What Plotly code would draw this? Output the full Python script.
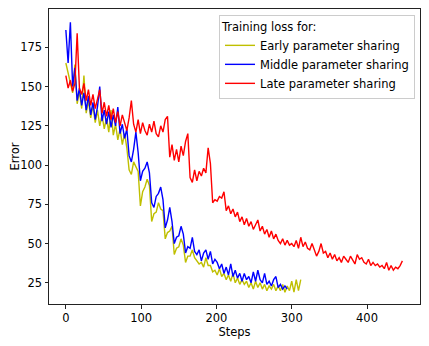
"""Training loss for three parameter sharing schedules."""

import plotly.graph_objects as go

STEP = 3

early_loss = [
    165, 158, 152, 146, 164, 139, 147, 136, 157, 133, 141, 130, 138, 127, 135, 125,
    132, 123, 130, 121, 135, 119, 126, 116, 123, 113, 120, 111, 97, 94, 102, 99,
    96, 74, 83, 86, 91, 87, 64, 69, 70, 76, 72, 71, 53, 57, 58, 61,
    43, 47, 48, 53, 49, 38, 42, 42, 46, 41, 39, 37, 38, 35, 41, 36,
    36, 32, 33, 30, 34, 29, 31, 27, 30, 26, 31, 25, 28, 24, 27, 24,
    26, 22, 25, 21, 26, 22, 25, 21, 24, 20, 23, 21, 24, 20, 23, 20,
    24, 19, 23, 20, 26, 19, 27, 20, 27,
]

middle_loss = [
    186, 165, 191, 150, 162, 141, 149, 138, 146, 135, 144, 132, 140, 129, 137, 150,
    128, 135, 126, 134, 124, 132, 125, 137, 120, 126, 117, 123, 106, 102, 110, 121,
    108, 90, 96, 98, 102, 95, 76, 73, 80, 82, 86, 78, 60, 65, 73, 64,
    50, 54, 55, 61, 56, 44, 48, 47, 54, 45, 43, 46, 39, 44, 46, 40,
    45, 37, 40, 38, 34, 37, 31, 35, 30, 37, 29, 33, 28, 31, 26, 31,
    27, 29, 25, 32, 26, 33, 27, 25, 31, 24, 26, 23, 27, 29, 22, 24,
    21, 23, 21,
]

late_loss = [
    157, 149, 154, 147, 152, 184, 149, 145, 152, 141, 148, 138, 145, 136, 142, 148,
    133, 140, 131, 138, 129, 136, 127, 134, 125, 132, 127, 122, 130, 141, 126, 121,
    129, 120, 127, 122, 119, 126, 121, 128, 120, 118, 125, 121, 129, 131, 105, 113,
    103, 110, 102, 112, 106, 115, 120, 92, 89, 97, 90, 96, 93, 98, 95, 111,
    101, 76, 78, 77, 80, 79, 83, 71, 74, 69, 72, 67, 70, 64, 67, 62,
    66, 61, 64, 59, 62, 65, 58, 61, 56, 59, 54, 58, 53, 56, 52, 50,
    53, 49, 52, 49, 50, 48, 52, 47, 54, 48, 51, 47, 46, 50, 46, 42,
    45, 50, 44, 45, 41, 44, 40, 43, 39, 41, 38, 42, 40, 38, 42, 39,
    37, 43, 40, 41, 38, 37, 40, 36, 38, 36, 37, 35, 36, 34, 38, 33,
    36, 33, 35, 34, 36, 39,
]

series = [
    ("Early parameter sharing", early_loss, "#bfbf00"),
    ("Middle parameter sharing", middle_loss, "#0000ff"),
    ("Late parameter sharing", late_loss, "#ff0000"),
]

FONT = "DejaVu Sans"
SIZE = 11.5

fig = go.Figure()
for name, values, color in series:
    fig.add_trace(
        go.Scatter(
            x=[i * STEP for i in range(len(values))],
            y=values,
            mode="lines",
            name=name,
            line={"color": color, "width": 1.4},
        )
    )

axis_style = dict(
    showline=True,
    linecolor="#222222",
    linewidth=1,
    mirror=True,
    ticks="outside",
    ticklen=3.5,
    tickwidth=1,
    tickcolor="#222222",
    showgrid=False,
    zeroline=False,
    automargin=False,
    tickfont={"size": SIZE, "color": "black"},
)

# the page body adds an 8px offset, so the figure is sized to fit the window
fig.update_layout(
    width=421,
    height=338,
    margin={"l": 41, "r": 9, "t": 1, "b": 42},
    paper_bgcolor="white",
    plot_bgcolor="white",
    font={"family": FONT, "size": SIZE, "color": "black"},
    legend={
        "x": 0.9865,
        "y": 0.98,
        "xanchor": "right",
        "yanchor": "top",
        "bgcolor": "rgba(255,255,255,0.8)",
        "bordercolor": "#cccccc",
        "borderwidth": 1,
        "font": {"size": SIZE},
        "title": {"text": "Training loss for:", "side": "top", "font": {"size": SIZE}},
        "itemwidth": 30,
        "tracegroupgap": 0,
    },
)
fig.update_xaxes(
    range=[-22.4, 470.4],
    tickvals=[0, 100, 200, 300, 400],
    title={"text": "Steps", "standoff": 3, "font": {"size": SIZE}},
    **axis_style,
)
fig.update_yaxes(
    range=[11.5, 199.4],
    tickvals=[25, 50, 75, 100, 125, 150, 175],
    title={"text": "Error", "standoff": 1, "font": {"size": SIZE}},
    **axis_style,
)

fig.write_html("out.html")
